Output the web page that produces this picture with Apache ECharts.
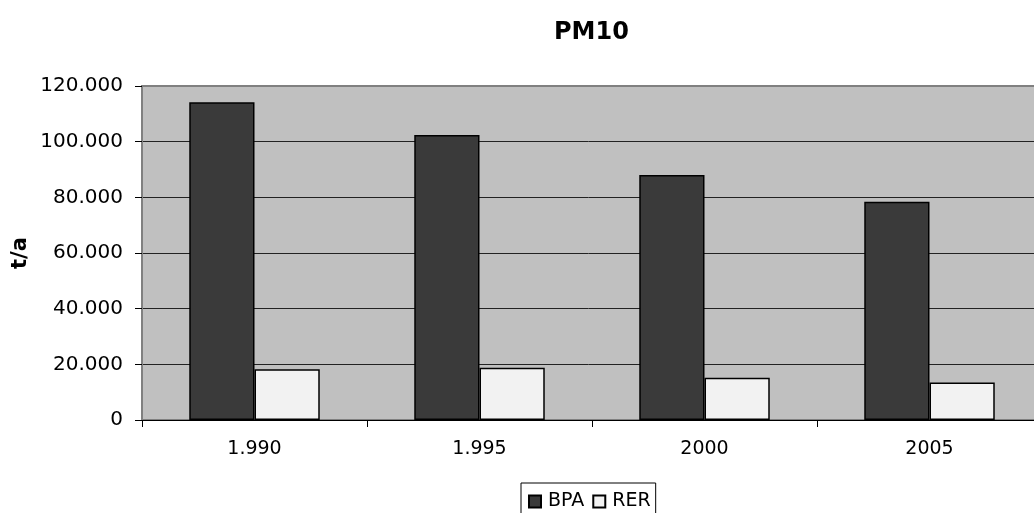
<!DOCTYPE html>
<html>
<head>
<meta charset="utf-8">
<script src="https://cdn.jsdelivr.net/npm/echarts@6/dist/echarts.min.js"></script>
<style>html,body{margin:0;padding:0;background:#fff}#c{width:1034px;height:513px}</style>
</head>
<body>
<div id="c"></div>
<script>
var categories = ['1.990', '1.995', '2000', '2005'];
var bpa = [114200, 102400, 88000, 78400];
var rer = [18200, 18800, 15200, 13500];
var titleText = 'PM10';
var yName = 't/a';

var chart = echarts.init(document.getElementById('c'), null, {renderer: 'canvas'});
var font = 'DejaVu Sans';
chart.setOption({
  animation: false,
  backgroundColor: '#fff',
  title: {
    text: titleText, left: 549, top: 16,
    textStyle: {fontFamily: font, fontWeight: 'bold', fontSize: 24, color: '#000'}
  },
  legend: {
    left: 521, top: 483, itemWidth: 12, itemHeight: 12, itemGap: 8, icon: 'rect',
    padding: [9, 5, 9, 7], borderColor: '#000', borderWidth: 1,
    textStyle: {fontFamily: font, fontSize: 19, color: '#000', padding: [0, 0, 0, 2]},
    data: ['BPA', 'RER']
  },
  grid: {
    left: 142, top: 86, width: 900, height: 334, show: true,
    outerBoundsMode: 'none', containLabel: false,
    backgroundColor: '#c0c0c0', borderColor: '#808080', borderWidth: 2
  },
  xAxis: {
    type: 'category', data: categories,
    axisLine: {lineStyle: {color: '#000', width: 1}},
    axisTick: {show: true, length: 7, lineStyle: {color: '#000'}},
    axisLabel: {fontFamily: font, fontSize: 19, color: '#000', margin: 20},
    splitLine: {show: false}
  },
  yAxis: {
    type: 'value', min: 0, max: 120000, interval: 20000,
    name: yName, nameLocation: 'middle', nameGap: 111, nameRotate: 90,
    nameMoveOverlap: false,
    nameTextStyle: {fontFamily: font, fontWeight: 'bold', fontSize: 21, color: '#000'},
    axisLine: {show: true, lineStyle: {color: '#808080', width: 2}},
    axisTick: {show: true, length: 7, lineStyle: {color: '#000'}},
    axisLabel: {
      fontFamily: font, fontSize: 20, color: '#000', margin: 19,
      formatter: function (v) { return String(v).replace(/\B(?=(\d{3})+(?!\d))/g, '.'); }
    },
    splitLine: {show: true, lineStyle: {color: ['#000', '#222', '#222', '#222', '#222', '#222', '#808080'], width: 1}}
  },
  series: [
    {name: 'BPA', type: 'bar', data: bpa, barGap: '0%', barCategoryGap: '42%',
     itemStyle: {color: '#3a3a3a', borderColor: '#000', borderWidth: 1.5}},
    {name: 'RER', type: 'bar', data: rer,
     itemStyle: {color: '#f2f2f2', borderColor: '#000', borderWidth: 1.5}}
  ]
});
</script>
</body>
</html>
